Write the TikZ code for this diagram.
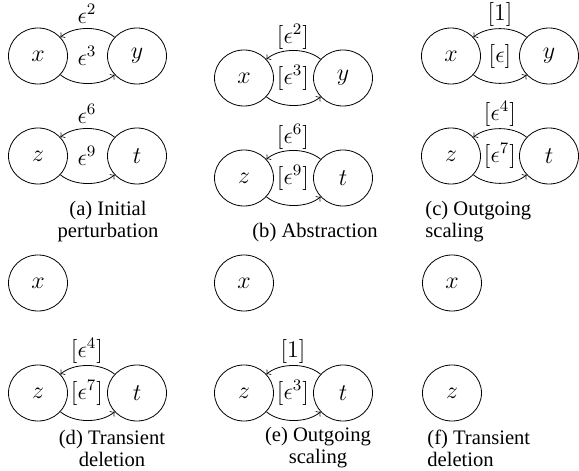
\documentclass[tikz,border=0pt]{standalone}
\usepackage{amsmath}
\usepackage{amssymb}
\usepackage{fontspec}
\newfontfamily\capfont{Liberation Serif}
\usetikzlibrary{shapes.geometric}

\tikzset{
  state/.style={draw, ellipse, minimum width=29.5pt, minimum height=28pt, inner sep=0pt, font=\large},
  edgelbl/.style={inner sep=0.75pt, font=\large},
  subcap/.style={font={\capfont\fontsize{10.3}{11}\selectfont}, inner sep=0pt},
  flow/.style={->, bend left=40, looseness=0.85},
}

\begin{document}
\begin{tikzpicture}[x=0.5pt,y=0.5pt,yscale=-1,xscale=1]
\useasboundingbox (0,0) rectangle (579,471);

%(a) initial perturbation
\node [state] (xa) at (38,56) {$x$};
\node [state] (ya) at (137,56) {$y$};
\node [state] (za) at (38,156) {$z$};
\node [state] (ta) at (137,156) {$t$};
\draw [flow] (ya) to (xa);
\draw [flow] (xa) to (ya);
\draw [flow] (ta) to (za);
\draw [flow] (za) to (ta);
% Text Node
\node [edgelbl] (lxya) at (87,14) {$\epsilon^{2}$};
\node [edgelbl] (lyxa) at (87,56) {$\epsilon^{3}$};
\node [edgelbl] (lzta) at (87,114) {$\epsilon^{6}$};
\node [edgelbl] (ltza) at (87,156) {$\epsilon^{9}$};
\node [subcap, align=center] (capa) at (108,222) {(a) Initial\\perturbation};

%(b) abstraction
\node [state] (xb) at (244,78) {$x$};
\node [state] (yb) at (343,78) {$y$};
\node [state] (zb) at (244,178) {$z$};
\node [state] (tb) at (343,178) {$t$};
\draw [flow] (yb) to (xb);
\draw [flow] (xb) to (yb);
\draw [flow] (tb) to (zb);
\draw [flow] (zb) to (tb);
% Text Node
\node [edgelbl] (lxyb) at (293,37) {$[\epsilon^{2}]$};
\node [edgelbl] (lyxb) at (293,78) {$[\epsilon^{3}]$};
\node [edgelbl] (lztb) at (293,137) {$[\epsilon^{6}]$};
\node [edgelbl] (ltzb) at (293,178) {$[\epsilon^{9}]$};
\node [subcap] (capb) at (315,233) {(b) Abstraction};

%(c) outgoing scaling
\node [state] (xc) at (451,56) {$x$};
\node [state] (yc) at (549,56) {$y$};
\node [state] (zc) at (451,156) {$z$};
\node [state] (tc) at (549,156) {$t$};
\draw [flow] (yc) to (xc);
\draw [flow] (xc) to (yc);
\draw [flow] (tc) to (zc);
\draw [flow] (zc) to (tc);
% Text Node
\node [edgelbl] (lxyc) at (500,14) {$[1]$};
\node [edgelbl] (lyxc) at (500,56) {$[\epsilon]$};
\node [edgelbl] (lztc) at (500,114) {$[\epsilon^{4}]$};
\node [edgelbl] (ltzc) at (500,156) {$[\epsilon^{7}]$};
\node [subcap, align=left, anchor=west] (capc) at (425,222) {(c) Outgoing\\scaling};

%(d) transient deletion
\node [state] (xd) at (38,283) {$x$};
\node [state] (zd) at (38,393) {$z$};
\node [state] (td) at (137,393) {$t$};
\draw [flow] (td) to (zd);
\draw [flow] (zd) to (td);
% Text Node
\node [edgelbl] (lztd) at (87,351) {$[\epsilon^{4}]$};
\node [edgelbl] (ltzd) at (87,393) {$[\epsilon^{7}]$};
\node [subcap, align=center] (capd) at (112,448) {(d) Transient\\deletion};

%(e) outgoing scaling
\node [state] (xe) at (244,283) {$x$};
\node [state] (ze) at (244,393) {$z$};
\node [state] (te) at (343,393) {$t$};
\draw [flow] (te) to (ze);
\draw [flow] (ze) to (te);
% Text Node
\node [edgelbl] (lzte) at (293,351) {$[1]$};
\node [edgelbl] (ltze) at (293,393) {$[\epsilon^{3}]$};
\node [subcap, align=center] (cape) at (318,448) {(e) Outgoing\\scaling};

%(f) transient deletion
\node [state] (xf) at (452,283) {$x$};
\node [state] (zf) at (452,393) {$z$};
% Text Node
\node [subcap, align=left, anchor=west] (capf) at (427,448) {(f) Transient\\deletion};

\end{tikzpicture}
\end{document}
